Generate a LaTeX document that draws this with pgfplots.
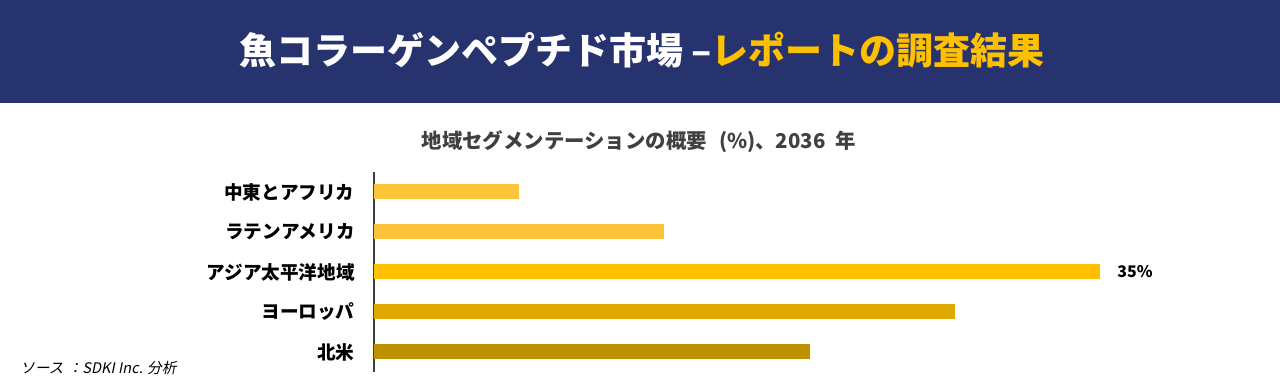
\documentclass[border=0pt]{standalone}
\usepackage{fontspec}
\setmainfont{Noto Sans CJK JP}
\newfontfamily\srcfont{Noto Sans CJK JP}[FakeSlant=0.2]
\usepackage{pgfplots}
\pgfplotsset{compat=1.18}
\definecolor{navy}{HTML}{27336E}
\definecolor{gold}{HTML}{FFC000}
\definecolor{cME}{HTML}{FCC63A}
\definecolor{cLA}{HTML}{FBC33A}
\definecolor{cAP}{HTML}{FFC000}
\definecolor{cEU}{HTML}{DFA800}
\definecolor{cNA}{HTML}{BF9000}
\definecolor{subgray}{HTML}{404040}
\begin{document}
\begin{tikzpicture}[x=1pt,y=1pt]
\fill[white] (0,0) rectangle (640,192);
\fill[navy] (0,140.5) rectangle (640,192);
\node[font=\bfseries\fontsize{18.5}{20}\selectfont, text=white, inner sep=0] at (321,167) {魚コラーゲンペプチド市場 –\textcolor{gold}{レポートの調査結果}};
\node[font=\bfseries\fontsize{10.2}{12}\selectfont, text=subgray, inner sep=0] at (319.5,121) {地域セグメンテーションの概要\hspace{0.6em}(\%)、2036\hspace{0.5em}年};
\node[font=\srcfont\fontsize{7.3}{8}\selectfont, text=black, anchor=west, inner sep=0] at (10,8) {ソース\hspace{0.3em}：SDKI Inc. 分析};
\begin{axis}[at={(187pt,6pt)}, anchor=south west, scale only axis,
  width=363pt, height=100pt,
  xmin=0, xmax=35, ymin=-0.5, ymax=4.5,
  xbar, bar width=7.5pt, bar shift=0pt,
  axis lines*=left,
  x axis line style={draw=none},
  y axis line style={draw=subgray, line width=0.8pt, -},
  xtick=\empty,
  ytick={0,1,2,3,4},
  yticklabels={北米,ヨーロッパ,アジア太平洋地域,ラテンアメリカ,中東とアフリカ},
  major tick length=0pt,
  yticklabel style={font=\bfseries\fontsize{9.3}{10}\selectfont, text=black, anchor=east, inner sep=0pt, xshift=-9.5pt},
  clip=false]
\addplot[fill=cME, draw=none] coordinates {(7,4)};
\addplot[fill=cLA, draw=none] coordinates {(14,3)};
\addplot[fill=cAP, draw=none] coordinates {(35,2)};
\addplot[fill=cEU, draw=none] coordinates {(28,1)};
\addplot[fill=cNA, draw=none] coordinates {(21,0)};
\node[font=\bfseries\fontsize{8}{10}\selectfont, anchor=west, inner sep=0pt] at (axis cs:35,2) [xshift=8.5pt] {35\%};
\end{axis}
\end{tikzpicture}
\end{document}
